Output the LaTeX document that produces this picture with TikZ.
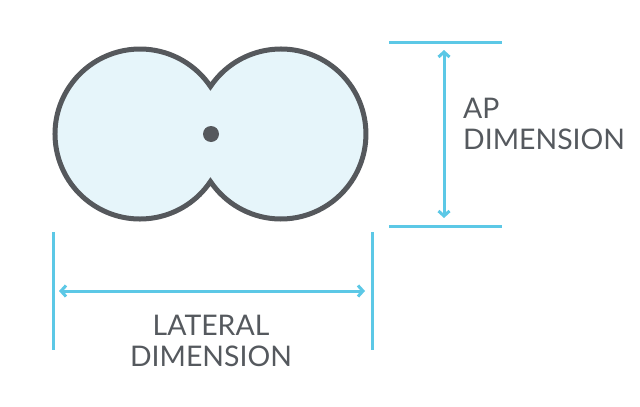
\documentclass[tikz,border=0pt]{standalone}
\usepackage{fontspec}
\setmainfont{Lato}
\usetikzlibrary{arrows.meta}
\definecolor{dimblue}{HTML}{5CC8E6}
\definecolor{blobfill}{HTML}{E6F5FA}
\definecolor{blobline}{HTML}{55585C}
\definecolor{textgrey}{HTML}{55595E}
\tikzset{
  blob/.style={draw=blobline, fill=blobfill, line width=5pt},
  extline/.style={draw=dimblue, line width=3pt},
  dimarrow/.style={draw=dimblue, line width=3pt, {Straight Barb[length=5pt,width=11pt,line width=3pt]}-{Straight Barb[length=5pt,width=11pt,line width=3pt]}},
  dimlabel/.style={text=textgrey, font=\fontsize{28.4}{31}\selectfont, inner sep=0pt},
}
\begin{document}
\begin{tikzpicture}[x=1pt,y=-1pt]
\useasboundingbox (0,0) rectangle (640,407);
\coordinate (lc) at (140,134);
\coordinate (rc) at (281,134);
% blob
\draw[blob] (lc) ++(34:85) arc[start angle=34, end angle=326, radius=85]
  arc[start angle=214, end angle=506, radius=85] -- cycle;
\node[circle, fill=blobline, minimum size=16pt, inner sep=0pt] (dot) at (211,134) {};
% AP dimension
\coordinate (apt1) at (389,42);
\coordinate (apt2) at (502,42);
\coordinate (apb1) at (389,226);
\coordinate (apb2) at (502,226);
\draw[extline] (apt1) -- (apt2);
\draw[extline] (apb1) -- (apb2);
\coordinate (apa) at (444,50);
\coordinate (apb) at (444,218);
\draw[dimarrow] (apa) -- (apb);
\node[dimlabel, anchor=north west, align=left] (aplabel) at (463,98) {AP\\DIMENSION};
% lateral dimension
\coordinate (ll1) at (53,232);
\coordinate (ll2) at (53,350);
\coordinate (lr1) at (372,232);
\coordinate (lr2) at (372,350);
\draw[extline] (ll1) -- (ll2);
\draw[extline] (lr1) -- (lr2);
\coordinate (la) at (59,291);
\coordinate (lb) at (365,291);
\draw[dimarrow] (la) -- (lb);
\node[dimlabel, anchor=north, align=center] (latlabel) at (211,315) {LATERAL\\DIMENSION};
\end{tikzpicture}
\end{document}
